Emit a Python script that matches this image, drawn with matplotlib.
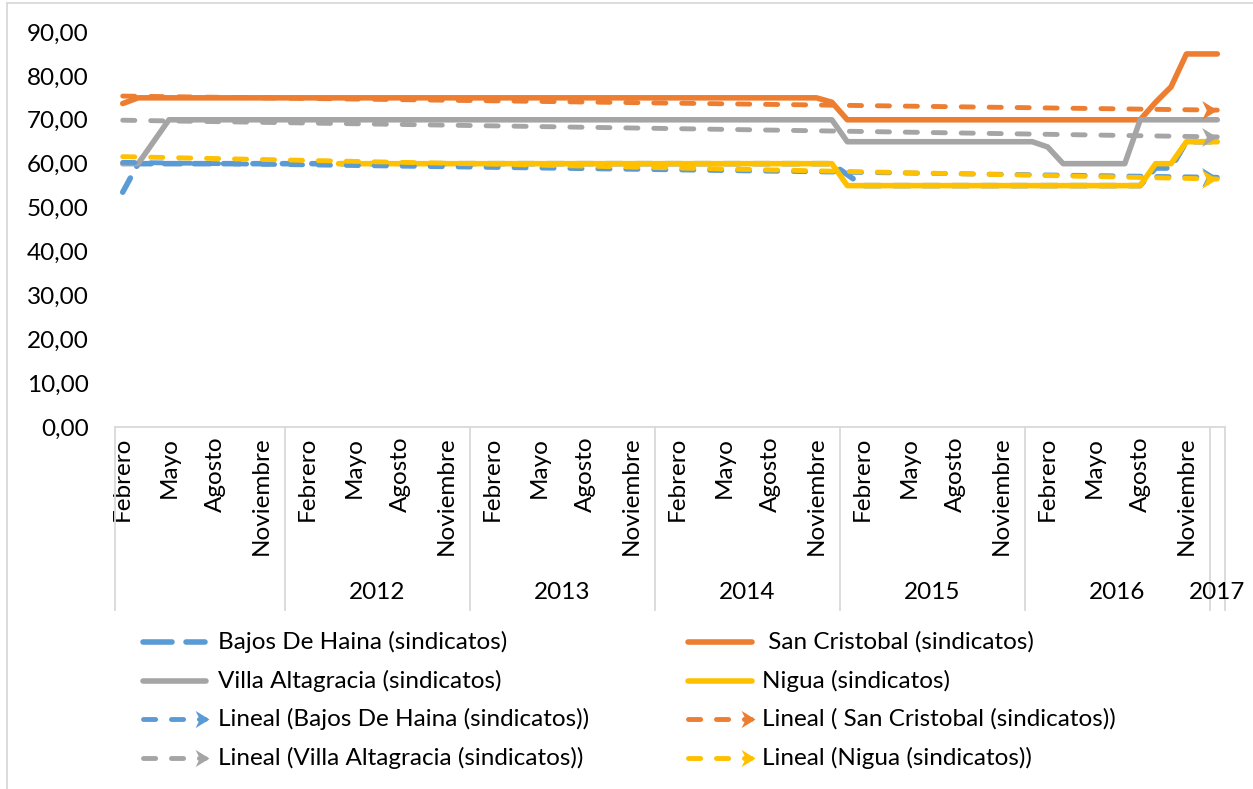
import numpy as np
import matplotlib.pyplot as plt
from matplotlib.lines import Line2D
from matplotlib.path import Path
from matplotlib.ticker import FuncFormatter
from matplotlib.transforms import blended_transform_factory

plt.rcParams['font.family'] = ['Lato', 'DejaVu Sans']
nan = np.nan

meses = ['Enero', 'Febrero', 'Marzo', 'Abril', 'Mayo', 'Junio', 'Julio',
         'Agosto', 'Septiembre', 'Octubre', 'Noviembre', 'Diciembre']
anios = ['', '2012', '2013', '2014', '2015', '2016', '2017']
meses_por_anio = [11, 12, 12, 12, 12, 12, 1]

# primer grupo: febrero..diciembre, ultimo grupo: solo enero
etiquetas_mes = []
for a, n in zip(anios, meses_por_anio):
    ini = 12 - n if a == '' else 0
    etiquetas_mes += meses[ini:ini + n]

bajos_haina = [53.5, 60, 60, 60, 60, 60, 60, 60, 60, 60, 60,
               60, 60, 60, 60, 60, 60, 60, 60, 60, 60, 60, 60,
               60, 60, 60, 60, 60, 60, 60, 60, 60, 60, 60, 60,
               60, 60, 60, 60, 60, 60, 60, 60, 60, 60, 60, 60,
               57.5, 55, 55, 55, 55, 55, 55, 55, 55, 55, 55, 55,
               55, 55, 55, 55, 55, 55, 55, 55, 59, 59, 65, 65,
               65]
san_cristobal = [73.7, 75, 75, 75, 75, 75, 75, 75, 75, 75, 75,
                 75, 75, 75, 75, 75, 75, 75, 75, 75, 75, 75, 75,
                 75, 75, 75, 75, 75, 75, 75, 75, 75, 75, 75, 75,
                 75, 75, 75, 75, 75, 75, 75, 75, 75, 75, 75, 74,
                 70, 70, 70, 70, 70, 70, 70, 70, 70, 70, 70, 70,
                 70, 70, 70, 70, 70, 70, 70, 70, 74, 77.5, 85, 85,
                 85]
villa_altagracia = [60, 60, 65, 70, 70, 70, 70, 70, 70, 70, 70,
                    70, 70, 70, 70, 70, 70, 70, 70, 70, 70, 70, 70,
                    70, 70, 70, 70, 70, 70, 70, 70, 70, 70, 70, 70,
                    70, 70, 70, 70, 70, 70, 70, 70, 70, 70, 70, 70,
                    65, 65, 65, 65, 65, 65, 65, 65, 65, 65, 65, 65,
                    65, 63.8, 60, 60, 60, 60, 60, 70, 70, 70, 70, 70,
                    70]
nigua = [nan, nan, nan, nan, nan, nan, nan, nan, nan, nan, nan,
         nan, nan, nan, 60, 60, 60, 60, 60, 60, 60, 60, 60,
         60, 60, 60, 60, 60, 60, 60, 60, 60, 60, 60, 60,
         60, 60, 60, 60, 60, 60, 60, 60, 60, 60, 60, 60,
         55, 55, 55, 55, 55, 55, 55, 55, 55, 55, 55, 55,
         55, 55, 55, 55, 55, 55, 55, 55, 60, 60, 65, 65,
         65]

# lineas de tendencia lineal (valor al inicio y al final)
tend_nombres = ['Lineal (Bajos De Haina (sindicatos))',
                'Lineal ( San Cristobal (sindicatos))',
                'Lineal (Villa Altagracia (sindicatos))',
                'Lineal (Nigua (sindicatos))']
tend_inicio = [60.3, 75.4, 69.9, 61.6]
tend_fin = [56.9, 72.2, 66.1, 56.5]

azul, naranja, gris, amarillo = '#5B9BD5', '#ED7D31', '#A5A5A5', '#FFC000'
tend_colores = [azul, naranja, gris, amarillo]
borde = '#D9D9D9'
fs = 17.5

series = [
    (' San Cristobal (sindicatos)', san_cristobal, naranja),
    ('Villa Altagracia (sindicatos)', villa_altagracia, gris),
    ('Nigua (sindicatos)', nigua, amarillo),
]

W, H = 1253, 789
fig = plt.figure(figsize=(W / 100, H / 100), dpi=100)
ax = fig.add_axes([115 / W, 1 - 427 / H, 1110 / W, 395 / H])

x = np.arange(len(etiquetas_mes))
lw = 4
guion_azul = (2.9, 2.4)
guion_tend = (2.5, 3.25)
ax.plot(x, bajos_haina, color=azul, lw=lw, dashes=guion_azul,
        solid_capstyle='round', dash_capstyle='round', zorder=3)
for i, (nombre, y, c) in enumerate(series):
    ax.plot(x, y, color=c, lw=lw, solid_capstyle='round',
            solid_joinstyle='round', zorder=4 + i)

# flecha tipo Excel para las lineas de tendencia
flecha = Path([(0, 0), (-1, 0.62), (-0.7, 0), (-1, -0.62), (0, 0)],
              [Path.MOVETO, Path.LINETO, Path.LINETO, Path.LINETO, Path.CLOSEPOLY])

for i in range(4):
    c = tend_colores[i]
    xt = [x[0], x[-1]]
    yt = [tend_inicio[i], tend_fin[i]]
    ax.plot(xt, yt, color=c, lw=3.5, dashes=guion_tend,
            dash_capstyle='round', zorder=8 + i)
    ax.plot(xt[-1:], yt[-1:], ls='none', marker=flecha,
            markersize=22, color=c, mec='none', zorder=8 + i)

ax.set_xlim(-0.5, len(x) - 0.5)
ax.set_ylim(0, 90)
ax.set_yticks(np.arange(0, 91, 10))
ax.yaxis.set_major_formatter(FuncFormatter(lambda v, p: f'{v:.2f}'.replace('.', ',')))
ax.tick_params(axis='y', length=0, pad=19, labelsize=fs, colors='#000000')

ax.set_xticks(x[::3])
ax.set_xticklabels(etiquetas_mes[::3], rotation=90, va='top', ha='center')
ax.tick_params(axis='x', length=0, pad=7, labelsize=fs)

for s in ['top', 'right', 'left']:
    ax.spines[s].set_visible(False)
ax.spines['bottom'].set_color(borde)
ax.spines['bottom'].set_linewidth(1.3)

# separadores y etiquetas de anio
tr = blended_transform_factory(ax.transData, ax.transAxes)
ini = 0
limites = [-0.5]
for a, n in zip(anios, meses_por_anio):
    limites.append(ini + n - 0.5)
    ax.text(ini + (n - 1) / 2, -0.418, a, transform=tr, ha='center',
            va='center', fontsize=fs)
    ini += n
for xl in limites:
    ax.add_line(Line2D([xl, xl], [0, -0.463], transform=tr, color=borde,
                       lw=1.3, clip_on=False))


# leyenda manual
def fx(p):
    return p / W


def fy(p):
    return 1 - p / H


filas = [642, 681, 719, 758]
col1 = (140, 209, 218)
col2 = (685, 755, 762)
entradas = [
    (col1, filas[0], 'Bajos De Haina (sindicatos)', azul, 'dash'),
    (col2, filas[0], ' San Cristobal (sindicatos)', naranja, '-'),
    (col1, filas[1], 'Villa Altagracia (sindicatos)', gris, '-'),
    (col2, filas[1], 'Nigua (sindicatos)', amarillo, '-'),
    (col1, filas[2], tend_nombres[0], azul, 'trend'),
    (col2, filas[2], tend_nombres[1], naranja, 'trend'),
    (col1, filas[3], tend_nombres[2], gris, 'trend'),
    (col2, filas[3], tend_nombres[3], amarillo, 'trend'),
]
for (x0, x1, xtx), yy, txt, c, estilo in entradas:
    if estilo == 'dash':
        for a, b in [(x0 + 3, x0 + 32), (x0 + 46, x1 - 4)]:
            fig.add_artist(Line2D([fx(a), fx(b)], [fy(yy), fy(yy)], color=c,
                                  lw=lw, solid_capstyle='round',
                                  transform=fig.transFigure))
    elif estilo == 'trend':
        fig.add_artist(Line2D([fx(x0 + 3), fx(x1 - 4)], [fy(yy), fy(yy)],
                              color=c, lw=3.5, dashes=guion_tend,
                              dash_capstyle='round', transform=fig.transFigure))
        fig.add_artist(Line2D([fx(x1)], [fy(yy)], ls='none', marker=flecha,
                              markersize=20, color=c, mec='none',
                              transform=fig.transFigure))
    else:
        fig.add_artist(Line2D([fx(x0 + 3), fx(x1 - 3)], [fy(yy), fy(yy)],
                              color=c, lw=lw, solid_capstyle='round',
                              transform=fig.transFigure))
    fig.text(fx(xtx), fy(yy), txt, ha='left', va='center', fontsize=fs)

# borde del grafico
fig.add_artist(Line2D([fx(7), fx(7)], [fy(3), 0], color=borde, lw=1.3,
                      transform=fig.transFigure))
fig.add_artist(Line2D([fx(7), 1], [fy(3), fy(3)], color=borde, lw=1.3,
                      transform=fig.transFigure))

fig.savefig('out.png', dpi=100)
